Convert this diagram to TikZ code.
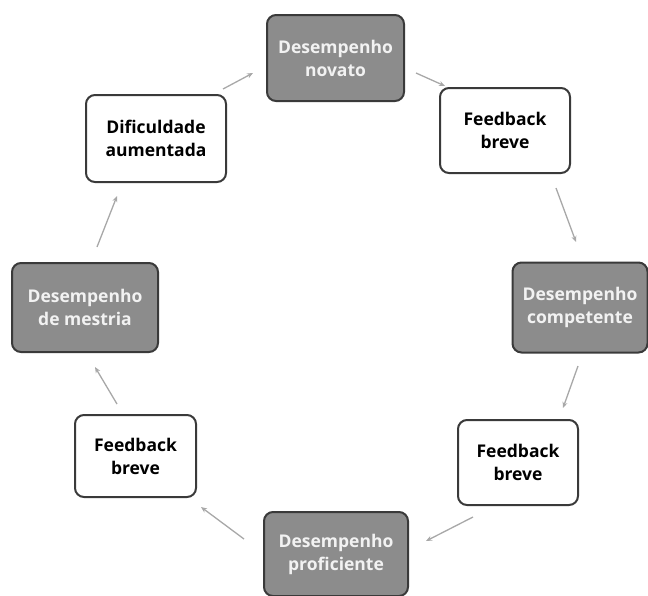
\documentclass[tikz,border=0pt]{standalone}
\usepackage{fontspec}
\setmainfont{Open Sans}
\usetikzlibrary{arrows.meta}
\definecolor{boxgray}{HTML}{8C8C8C}
\definecolor{edgegray}{HTML}{3A3A3A}
\definecolor{arrowgray}{HTML}{A8A8A8}
\definecolor{textgray}{HTML}{F2F2F2}
\tikzset{
  cyclebox/.style={draw=edgegray, line width=2pt, rounded corners=9pt, align=center,
    font=\fontsize{17.5}{23}\selectfont\bfseries, inner sep=0pt},
  darkbox/.style={cyclebox, fill=boxgray, text=textgray},
  lightbox/.style={cyclebox, fill=white, text=black},
  flow/.style={draw=arrowgray, line width=1.3pt, -{Stealth[length=6pt,width=5pt]}}
}
\begin{document}
\begin{tikzpicture}[x=1pt,y=-1pt]
\useasboundingbox (0,0) rectangle (648,595);
\node[darkbox, minimum width=137pt, minimum height=86pt] (n1) at (335.5,58) {Desempenho\\novato};
\node[lightbox, minimum width=130pt, minimum height=85pt] (n2) at (505,130.5) {Feedback\\breve};
\node[darkbox, minimum width=135pt, minimum height=90pt] (n3) at (580,307.5) {Desempenho\\competente};
\node[lightbox, minimum width=120pt, minimum height=85pt] (n4) at (518,462.5) {Feedback\\breve};
\node[darkbox, minimum width=144pt, minimum height=84pt] (n5) at (336,554) {Desempenho\\proficiente};
\node[lightbox, minimum width=121pt, minimum height=82pt] (n6) at (135.5,456) {Feedback\\breve};
\node[darkbox, minimum width=146pt, minimum height=89pt] (n7) at (85,307.5) {Desempenho\\de mestria};
\node[lightbox, minimum width=140pt, minimum height=87pt] (n8) at (156,138.5) {Dificuldade\\aumentada};
\draw[flow] (n8.north east) ++(-4,-5) coordinate (a1s) -- (253,73) coordinate (a1e);
\draw[flow] (416,73) coordinate (a2s) -- (445,86) coordinate (a2e);
\draw[flow] (556,188) coordinate (a3s) -- (576,242) coordinate (a3e);
\draw[flow] (578,366) coordinate (a4s) -- (563,408) coordinate (a4e);
\draw[flow] (473,517) coordinate (a5s) -- (426,541) coordinate (a5e);
\draw[flow] (244,539) coordinate (a6s) -- (201,507) coordinate (a6e);
\draw[flow] (117,404) coordinate (a7s) -- (95,367) coordinate (a7e);
\draw[flow] (97,247) coordinate (a8s) -- (117,196) coordinate (a8e);
\end{tikzpicture}
\end{document}
